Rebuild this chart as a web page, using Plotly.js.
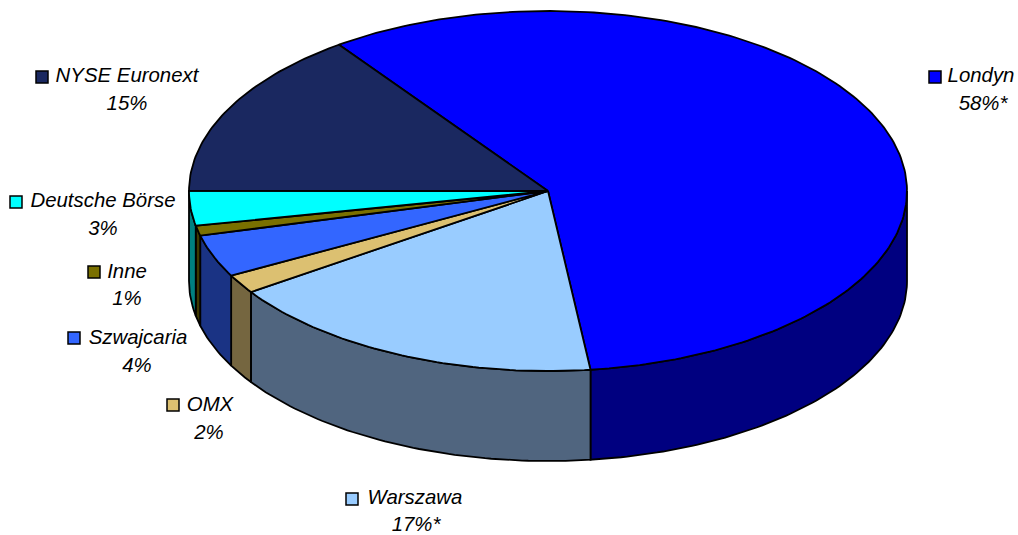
<!DOCTYPE html>
<html>
<head>
<meta charset="utf-8">
<script src="https://cdn.plot.ly/plotly-3.0.1.min.js"></script>
<style>html,body{margin:0;padding:0;background:#fff}#chart{width:1018px;height:535px}</style>
</head>
<body>
<div id="chart"></div>
<script>
// Data (clockwise order, starting from Londyn)
const categories = ['Londyn', 'Warszawa', 'OMX', 'Szwajcaria', 'Inne', 'Deutsche Börse', 'NYSE Euronext'];
const shares = [58, 17.4, 1.7, 3.8, 0.9, 3.1, 15.1];
const shareLabels = ['58%*', '17%*', '2%', '4%', '1%', '3%', '15%'];

// Styles
const topColors = ['#0000ff', '#99ccff', '#dcc071', '#3366ff', '#7a7000', '#00ffff', '#1a2860'];
const wallColors = ['#000080', '#50657f', '#756640', '#1a3384', '#3d3800', '#008080', '#0d1430'];

// Layout of the labels (pixel-based axes)
const keyX = [935, 352, 173, 74, 94, 16, 42];
const keyY = [77, 499, 405, 338, 272, 202, 77];
const nameX = [981, 415, 210, 138, 127, 103, 127];
const nameY = [77, 499, 406, 339, 273, 202, 77];
const pctX = [983, 416, 209, 137, 127, 103, 127];
const pctY = [105, 526, 434, 367, 300, 230, 105];

// Pie geometry
const cx = 548, cy = 191, rx = 359, ry = 180, depth = 90, startDeg = -35.6;

const rad = d => d * Math.PI / 180;
const px = d => cx + rx * Math.sin(rad(d));
const py = d => cy - ry * Math.cos(rad(d));

function arc(a, b) {
  const n = Math.max(2, Math.ceil(Math.abs(b - a)));
  const out = [];
  for (let i = 0; i <= n; i++) out.push(a + (b - a) * i / n);
  return out;
}

const total = shares.reduce((s, v) => s + v, 0);
const wallTraces = [], topTraces = [];
let acc = startDeg;
shares.forEach((v, i) => {
  const a = acc, b = acc + v / total * 360;
  acc = b;
  const lo = Math.max(a, 90), hi = Math.min(b, 270);
  if (hi > lo) {
    const t = arc(lo, hi);
    const r = t.slice().reverse();
    wallTraces.push({
      type: 'scatter', mode: 'lines', fill: 'toself', fillcolor: wallColors[i],
      x: t.map(px).concat(r.map(px), [px(t[0])]),
      y: t.map(py).concat(r.map(d => py(d) + depth), [py(t[0])]),
      line: {color: '#000', width: 1.8}, hoverinfo: 'skip', showlegend: false
    });
  }
  const t = arc(a, b);
  topTraces.push({
    type: 'scatter', mode: 'lines', fill: 'toself', fillcolor: topColors[i], name: categories[i],
    x: [cx].concat(t.map(px), [cx]),
    y: [cy].concat(t.map(py), [cy]),
    line: {color: '#000', width: 1.8}, hoverinfo: 'skip', showlegend: false
  });
});

const font = {family: '"Liberation Sans", Arial, sans-serif', size: 20.4, color: '#000', style: 'italic'};
const labelTraces = [
  {type: 'scatter', mode: 'markers', x: keyX, y: keyY, hoverinfo: 'skip', showlegend: false,
   marker: {symbol: 'square', size: 12, color: topColors, line: {color: '#000', width: 1.5}}},
  {type: 'scatter', mode: 'text', x: nameX, y: nameY, text: categories, textposition: 'middle center',
   textfont: font, hoverinfo: 'skip', showlegend: false, cliponaxis: false},
  {type: 'scatter', mode: 'text', x: pctX, y: pctY, text: shareLabels, textposition: 'middle center',
   textfont: font, hoverinfo: 'skip', showlegend: false, cliponaxis: false}
];

Plotly.newPlot('chart', wallTraces.concat(topTraces, labelTraces), {
  width: 1018, height: 535, autosize: false,
  margin: {l: 0, r: 0, t: 0, b: 0},
  paper_bgcolor: '#fff', plot_bgcolor: '#fff',
  xaxis: {range: [0, 1018], visible: false, fixedrange: true},
  yaxis: {range: [535, 0], visible: false, fixedrange: true},
  showlegend: false
}, {displayModeBar: false, staticPlot: true});
</script>
</body>
</html>
